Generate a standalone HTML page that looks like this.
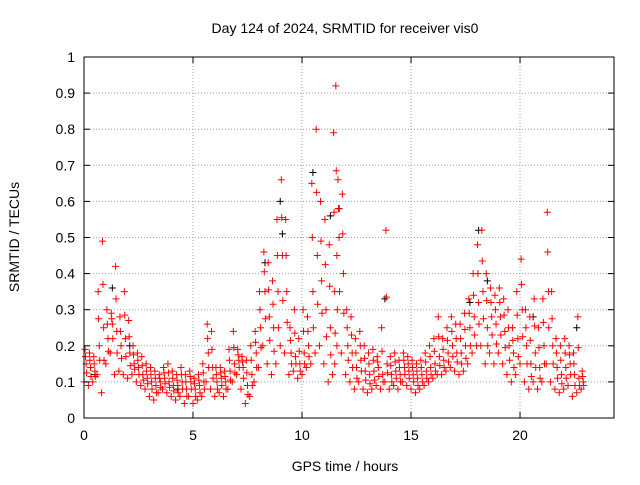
<!DOCTYPE html>
<html><head><meta charset="utf-8"><style>
body{margin:0;background:#fff}
svg text{font-family:"Liberation Sans",sans-serif;font-size:14px;fill:#000}
</style></head><body>
<svg id="chart" width="640" height="480" viewBox="0 0 640 480" xmlns="http://www.w3.org/2000/svg">
<rect width="640" height="480" fill="#fff"/>
<text x="345" y="33" text-anchor="middle">Day 124 of 2024, SRMTID for receiver vis0</text>
<text x="345" y="471" text-anchor="middle">GPS time / hours</text>
<text transform="translate(19,237) rotate(-90)" text-anchor="middle">SRMTID / TECUs</text>
<g id="grid"></g><g id="marks"></g><g id="axes"></g>
</svg>
<script>
const times=[0,0.2,0.4,0.6,0.8,1.0,1.2,1.4,1.6,1.8,2.0,2.2,2.4,2.6,2.8,3.0,3.2,3.4,3.6,3.8,4.0,4.2,4.4,4.6,4.8,5.0,5.2,5.4,5.6,5.8,6.0,6.2,6.4,6.6,6.8,7.0,7.2,7.4,7.6,7.8,8.0,8.2,8.4,8.6,8.8,9.0,9.2,9.4,9.6,9.8,10.0,10.2,10.4,10.6,10.8,11.0,11.2,11.4,11.5,11.6,11.8,12.0,12.2,12.4,12.6,12.8,13.0,13.2,13.4,13.6,13.8,14.0,14.2,14.4,14.6,14.8,15.0,15.2,15.4,15.6,15.8,16.0,16.2,16.4,16.6,16.8,17.0,17.2,17.4,17.6,17.8,18.0,18.2,18.4,18.6,18.8,19.0,19.2,19.4,19.6,19.8,20.0,20.2,20.4,20.6,20.8,21.0,21.2,21.4,21.6,21.8,22.0,22.2,22.4,22.6,22.8];
const lowVals=[.10,.09,.10,.12,.07,.15,.18,.12,.13,.12,.11,.12,.10,.09,.08,.06,.05,.07,.08,.07,.06,.05,.06,.04,.06,.04,.05,.06,.10,.08,.06,.07,.06,.08,.10,.12,.08,.04,.06,.10,.14,.20,.15,.12,.15,.20,.18,.12,.13,.11,.12,.14,.15,.18,.20,.15,.10,.12,.15,.20,.18,.12,.10,.08,.10,.08,.07,.08,.09,.08,.10,.08,.09,.08,.10,.09,.08,.07,.08,.09,.10,.11,.12,.12,.13,.14,.13,.12,.13,.15,.18,.20,.20,.15,.18,.15,.18,.15,.12,.10,.12,.15,.10,.08,.10,.08,.10,.15,.10,.08,.07,.08,.09,.06,.07,.08];
const midVals=[.15,.14,.13,.20,.25,.22,.26,.24,.20,.22,.18,.15,.14,.12,.11,.10,.09,.10,.11,.10,.09,.09,.10,.08,.10,.08,.09,.10,.18,.14,.10,.11,.10,.13,.15,.16,.14,.09,.12,.18,.25,.35,.28,.25,.35,.45,.35,.18,.17,.15,.18,.20,.35,.45,.38,.30,.25,.35,.45,.50,.40,.20,.18,.14,.16,.13,.12,.13,.14,.12,.15,.12,.13,.12,.14,.13,.12,.11,.12,.13,.14,.15,.17,.16,.18,.20,.18,.18,.20,.25,.28,.32,.35,.25,.28,.26,.28,.24,.20,.18,.22,.30,.20,.15,.18,.14,.20,.35,.20,.14,.12,.14,.15,.12,.11,.10];
const highVals=[.19,.18,.17,.35,.49,.30,.29,.42,.28,.35,.27,.20,.18,.17,.15,.14,.13,.12,.14,.15,.13,.12,.14,.12,.13,.11,.12,.15,.26,.24,.14,.14,.13,.19,.24,.19,.17,.16,.20,.24,.35,.46,.43,.38,.55,.66,.55,.25,.30,.22,.30,.28,.65,.80,.60,.55,.48,.79,.92,.66,.62,.30,.28,.22,.24,.20,.18,.19,.17,.25,.52,.17,.18,.16,.18,.17,.16,.15,.16,.18,.20,.22,.28,.22,.25,.28,.26,.26,.29,.33,.40,.48,.52,.40,.36,.34,.36,.33,.30,.25,.35,.44,.30,.28,.33,.25,.33,.57,.35,.22,.20,.22,.20,.18,.28,.13];
const blackTimes=[0.5,1.3,2.1,4.3,8.3,9.0,9.1,10.5,11.3,11.7,13.8,17.7,18.1,18.5,20.6,22.6];
const blackVals=[.12,.36,.20,.08,.43,.60,.51,.68,.56,.58,.33,.32,.52,.38,.28,.25];
const xTicks=[0,5,10,15,20];
const yTicks=[0,0.1,0.2,0.3,0.4,0.5,0.6,0.7,0.8,0.9,1];
const yTickLabels=["0","0.1","0.2","0.3","0.4","0.5","0.6","0.7","0.8","0.9","1"];
const L=84,R=614,T=57,B=418,XMAX=24.31;
const sx=t=>L+(R-L)*t/XMAX, sy=v=>B-(B-T)*v;
const NS="http://www.w3.org/2000/svg";
function mk(tag,a,parent){const e=document.createElementNS(NS,tag);for(const k in a)e.setAttribute(k,a[k]);parent.appendChild(e);return e;}
const grid=document.getElementById('grid'),axes=document.getElementById('axes'),marks=document.getElementById('marks');
xTicks.forEach(t=>{const x=sx(t);
 if(t>0){const g=mk('line',{x1:x,y1:T,x2:x,y2:B,stroke:'#a0a0a0','stroke-dasharray':'1,2'},grid);
 
 }
 mk('line',{x1:x,y1:B,x2:x,y2:B-6,stroke:'#000'},axes);mk('line',{x1:x,y1:T,x2:x,y2:T+6,stroke:'#000'},axes);
 const l=mk('text',{x:x,y:B+22,'text-anchor':'middle'},axes);l.textContent=t;
 
 });
yTicks.forEach((v,i)=>{const y=sy(v);
 if(v>0&&v<1){const g=mk('line',{x1:L,y1:y,x2:R,y2:y,stroke:'#a0a0a0','stroke-dasharray':'1,2'},grid);
 
 }
 mk('line',{x1:L,y1:y,x2:L+6,y2:y,stroke:'#000'},axes);mk('line',{x1:R,y1:y,x2:R-6,y2:y,stroke:'#000'},axes);
 const l=mk('text',{x:L-9,y:y+5,'text-anchor':'end'},axes);l.textContent=yTickLabels[i];
 
 });
const fr=mk('rect',{x:L,y:T,width:R-L,height:B-T,fill:'none',stroke:'#000'},axes);


function plus(t,v,c,name){const x=sx(t),y=sy(v);
 const p=mk('path',{d:`M${x-3.5},${y}h7M${x},${y-3.5}v7`,stroke:c,'stroke-width':1,fill:'none'},marks);
 
 }
blackTimes.forEach((t,i)=>plus(t,blackVals[i],'#000','black-point'));
times.forEach((t,i)=>{plus(t,lowVals[i],'#f00','point-low');plus(t+0.1,midVals[i],'#f00','point-mid');plus(t+0.05,highVals[i],'#f00','point-high');
 plus(t+0.12,(lowVals[i]+midVals[i])/2,'#f00','point-lowmid');plus(t+0.07,(midVals[i]+highVals[i])/2,'#f00','point-midhigh');});
</script>
</body></html>
